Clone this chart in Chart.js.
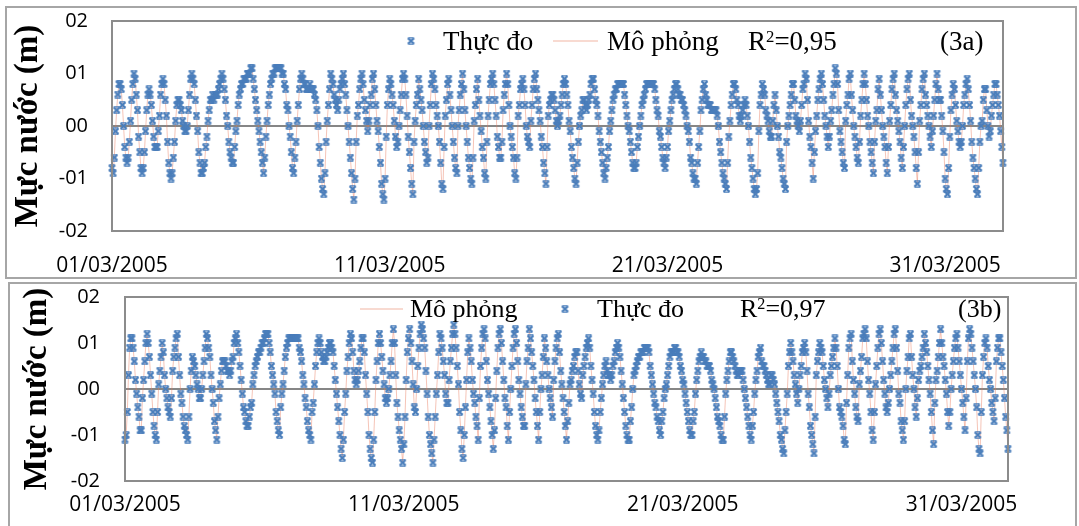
<!DOCTYPE html>
<html><head><meta charset="utf-8">
<script src="https://cdn.jsdelivr.net/npm/chart.js@4.4.0/dist/chart.umd.min.js"></script>
<style>
html,body{margin:0;padding:0;background:#fff;width:1079px;height:526px;overflow:hidden;}
.box{position:absolute;border:2px solid #a6a6a6;box-sizing:border-box;}
canvas{position:absolute;}
.t{position:absolute;font-family:"Liberation Serif","Times New Roman",serif;color:#000;white-space:nowrap;line-height:1;}
.t sup{font-size:0.62em;line-height:0;vertical-align:baseline;position:relative;top:-0.48em;}
</style></head><body>
<div class="box" style="left:5px;top:6px;width:1072px;height:273px;"></div>
<div class="box" style="left:8px;top:282px;width:1069px;height:260px;"></div>
<canvas id="cA" width="1070" height="270" style="left:6px;top:7px;width:1070px;height:270px"></canvas>
<canvas id="cB" width="1067" height="242" style="left:9px;top:284px;width:1067px;height:242px"></canvas>

<div class="t" style="left:443px;top:28px;font-size:27px">Thực đo</div>
<div class="t" style="left:607px;top:28px;font-size:27px">Mô phỏng</div>
<div class="t" style="left:748px;top:28px;font-size:27px">R<sup>2</sup>=0,95</div>
<div class="t" style="left:940px;top:28px;font-size:27px">(3a)</div>

<div class="t" style="left:410px;top:296px;font-size:26px">Mô phỏng</div>
<div class="t" style="left:597px;top:296px;font-size:26px">Thực đo</div>
<div class="t" style="left:740px;top:296px;font-size:26px">R<sup>2</sup>=0,97</div>
<div class="t" style="left:958px;top:296px;font-size:26px">(3b)</div>

<script>
// Hourly water level (axis units: hundredths, tick "01" = 10)
const obsA = [
-8,-9,-6,-1,3,6,8,8,7,4,0,-4,-6,-7,-6,-3,1,5,8,10,9,6,3,-2,
-5,-8,-9,-8,-5,-1,3,6,7,6,4,1,-2,-4,-4,-4,-1,2,6,8,9,8,5,2,
-3,-7,-9,-10,-9,-6,-3,1,4,5,5,4,3,1,0,-1,-1,0,3,6,9,10,9,8,
5,2,-1,-5,-7,-9,-9,-8,-7,-4,-2,1,3,5,5,6,5,6,6,6,7,8,9,10,
9,7,5,2,0,-3,-5,-6,-7,-7,-4,-1,1,4,6,7,8,8,9,9,9,10,10,10,
11,11,9,7,5,3,1,-1,-3,-5,-7,-9,-6,-2,1,4,6,8,9,10,10,11,11,11,
11,11,11,10,10,8,7,4,3,0,-2,-5,-8,-9,-6,-3,1,4,7,9,10,9,8,8,
7,7,7,8,7,7,7,6,5,3,0,-4,-7,-10,-12,-13,-9,-3,1,4,7,10,9,8,
6,5,4,3,5,7,8,9,10,8,6,3,0,-3,-6,-9,-12,-14,-10,-3,2,4,7,9,
10,8,5,3,1,-1,1,4,6,9,10,7,4,1,-1,-4,-7,-11,-13,-14,-10,-2,4,7,
9,8,6,4,1,-2,-4,-3,0,3,6,9,10,9,6,2,-2,-5,-8,-11,-13,-3,1,4,
6,9,7,5,3,0,-3,-5,-7,-6,0,4,8,10,9,7,4,2,0,-3,-7,-11,-12,-4,
2,5,8,9,6,3,0,-3,-6,-8,-9,0,3,6,8,10,7,3,0,-3,-6,-8,-10,-11,
-6,1,4,7,9,5,2,-1,-4,-6,-9,-10,-3,2,5,8,9,10,8,5,2,-2,-4,-6,
-6,-3,3,6,8,10,8,4,0,-2,-4,-6,-9,-10,-6,2,4,7,8,9,7,4,0,-2,
-3,-4,1,4,7,9,10,7,5,3,1,-2,-4,-7,-9,-11,-4,2,4,5,6,6,5,3,
1,0,1,2,4,6,8,9,8,6,4,1,-1,-4,-6,-8,-10,-11,-7,-3,0,2,3,5,
5,4,3,4,5,6,8,9,9,7,5,4,2,-1,-3,-5,-7,-9,-10,-8,-6,-4,-1,1,
3,5,6,7,7,8,8,8,8,8,8,6,4,2,0,-1,-3,-5,-7,-8,-8,-7,-4,-2,
0,2,4,5,6,7,8,8,8,8,8,8,8,7,5,3,2,-1,-2,-4,-6,-7,-8,-6,
-4,-1,1,3,5,6,7,8,8,7,6,6,5,5,4,3,2,0,-1,-3,-6,-7,-9,-10,
-10,-11,-7,-4,-1,3,5,7,8,6,5,4,4,4,3,3,3,3,3,2,0,-3,-5,-7,
-9,-10,-11,-12,-7,-2,1,4,6,8,8,7,5,4,2,1,2,3,4,5,4,2,0,-3,
-6,-8,-10,-12,-13,-12,-9,-1,4,6,8,7,6,3,2,1,-1,-2,-2,1,4,6,3,0,
-2,-5,-6,-8,-10,-11,-12,-3,0,2,4,6,8,8,5,2,1,0,-1,1,4,7,8,10,
9,5,1,-2,-4,-7,-10,-5,-1,2,5,7,9,10,8,5,2,0,-2,-4,-2,1,3,6,
8,11,10,8,3,-1,-3,-5,-7,-8,1,4,6,9,10,6,3,0,-2,-4,-6,-7,-3,2,
5,8,10,8,5,2,0,-3,-5,-7,-9,-3,1,3,7,9,6,3,0,-2,-4,-7,-9,-4,
1,4,7,9,10,6,3,1,-1,-3,-6,-8,-4,0,4,7,9,10,5,2,0,-2,-5,-8,
-11,-5,1,4,7,9,10,6,4,2,0,-2,-4,-1,2,5,8,10,7,5,5,2,-1,-5,
-10,-12,-13,-8,-2,3,6,8,7,4,1,-1,-3,-4,-3,0,4,6,8,9,7,4,1,-3,
-6,-8,-10,-12,-13,-8,-3,0,1,5,7,7,3,0,-2,-1,2,4,6,8,8,6,4,2,
-1,-4,-7
];
const obsB = [
-11,-10,-5,3,9,11,11,9,6,2,-1,-4,-6,-9,-9,-2,2,6,10,12,10,7,3,-1,
-5,-8,-10,-11,-5,1,4,7,10,8,3,0,-2,-4,-5,-6,-2,4,7,9,11,12,7,3,
-1,-3,-6,-8,-9,-10,-11,-6,0,4,7,6,5,3,1,0,-2,-2,0,3,6,9,12,11,
9,7,3,0,-3,-7,-9,-11,-6,-2,1,4,6,6,6,5,4,4,3,4,6,7,10,11,
12,10,8,5,2,-1,-4,-5,-7,-8,-8,-6,-4,-3,1,3,5,6,7,8,8,9,10,10,
11,12,12,12,10,8,5,3,1,-1,-5,-7,-9,-10,-4,-1,1,4,7,9,10,11,11,11,
11,11,11,11,11,11,9,8,6,3,1,-2,-4,-7,-9,-10,-11,-5,-3,1,5,8,10,11,
10,8,7,6,6,7,8,9,10,10,9,8,5,2,-1,-4,-7,-10,-13,-15,-11,-5,-1,4,
7,10,12,11,8,4,2,1,2,4,6,9,11,11,8,3,-1,-5,-10,-13,-15,-16,-11,-5,
2,6,10,12,10,7,4,1,-2,-3,-2,0,3,6,10,13,10,3,-3,-6,-9,-11,-13,-16,
-12,-6,2,8,11,13,10,6,1,-4,-5,0,5,9,12,14,13,11,9,4,-1,-6,-10,-12,
-14,-16,-11,-6,-1,3,8,12,11,9,6,3,-1,-3,-3,2,6,9,12,14,12,9,5,1,
-5,-9,-13,-15,-10,-4,2,8,11,9,6,2,-1,-3,-6,-8,-11,-2,5,9,12,13,11,6,
2,-1,-4,-7,-10,-13,-9,-2,4,9,12,13,10,6,2,-2,-4,-8,-11,-5,0,5,9,12,
13,10,6,2,-1,-4,-6,-8,-8,1,6,9,13,11,8,5,2,-2,-5,-8,-11,-5,0,3,
7,11,9,6,3,0,-2,-4,-6,2,6,9,11,12,8,4,1,-2,-5,-8,-11,-7,-3,1,
2,4,5,7,8,8,4,1,-1,-2,3,5,7,9,10,11,9,5,2,-1,-5,-8,-10,-11,
-9,-5,-2,1,3,5,6,4,3,3,2,3,5,6,8,9,10,9,7,4,1,-2,-5,-8,
-10,-11,-11,-7,-4,0,3,4,5,6,7,7,8,8,8,9,9,9,9,8,5,3,1,-1,
-3,-4,-6,-7,-9,-10,-7,-5,-2,0,1,3,5,7,8,8,8,9,9,8,8,7,5,4,
2,1,-1,-3,-5,-7,-9,-10,-10,-7,-5,-1,2,4,6,7,8,7,7,6,6,5,5,5,
4,2,1,0,-2,-4,-6,-7,-8,-10,-11,-11,-6,-1,2,4,6,8,8,7,6,5,4,3,
3,4,4,4,2,0,-2,-4,-6,-8,-10,-11,-8,-5,-1,2,4,7,8,9,6,5,5,4,
3,2,1,1,3,3,2,1,-1,-3,-5,-7,-10,-11,-13,-14,-9,-5,-1,5,8,10,8,6,
3,1,-1,-3,0,3,5,8,9,10,8,4,-1,-4,-8,-10,-12,-14,-6,3,6,8,10,9,
8,5,2,0,-2,-4,-1,3,5,7,9,11,9,5,0,-4,-5,-6,-8,-11,-12,-3,3,9,
11,12,6,2,-1,-4,-6,-7,1,4,7,11,12,13,11,6,2,-1,-5,-9,-11,-5,1,5,
9,12,13,10,6,2,-1,-4,-5,-3,0,3,6,9,12,13,9,4,-1,-3,-7,-9,-11,-7,
0,4,7,11,12,7,3,0,-4,-6,-2,2,4,5,7,9,12,10,8,5,2,-1,-5,-9,
-12,-3,2,4,7,10,13,10,7,5,2,-1,-5,-8,-5,0,3,6,9,11,12,9,6,3,
0,-3,-6,-9,-2,6,11,13,12,9,6,3,0,-4,-10,-13,-14,-5,3,7,10,11,9,5,
2,0,-3,-5,-7,-2,6,9,11,11,8,5,2,-2,-6,-9,
-13
];
// simulated series drawn as thin line (follows the observed points)
const simA = obsA;
const simB = obsB;
const xTickHours = [0, 240, 480, 720];
const xTickLabels = ['01/03/2005', '11/03/2005', '21/03/2005', '31/03/2005'];
const yTicks = [-20, -10, 0, 10, 20];
const yTickLabels = ['-02', '-01', '00', '01', '02'];

const MARK = '#4a7ebb';
const SIMC = 'rgba(232,120,90,0.55)';

// Excel-like "x" marker (x with short caps)
function makeMarker() {
  const c = document.createElement('canvas');
  c.width = 9; c.height = 8;
  const g = c.getContext('2d');
  g.strokeStyle = MARK; g.lineWidth = 2.2; g.lineCap = 'butt';
  g.beginPath();
  g.moveTo(1.5, 1.2); g.lineTo(7.5, 6.8);
  g.moveTo(7.5, 1.2); g.lineTo(1.5, 6.8);
  g.stroke();
  g.lineWidth = 1.4;
  g.beginPath();
  g.moveTo(1.5, 0.9); g.lineTo(7.5, 0.9);
  g.moveTo(1.5, 7.1); g.lineTo(7.5, 7.1);
  g.stroke();
  return c;
}
const MARKER = makeMarker();

function makeChart(id, obs, sim, cfg) {
  const obsPts = obs.map((v, i) => ({x: i, y: v}));
  const simPts = sim.map((v, i) => ({x: i, y: v}));
  const deco = {
    id: 'deco',
    afterDraw(chart) {
      const ctx = chart.ctx, a = chart.chartArea;
      ctx.save();
      ctx.strokeStyle = '#8c8c8c'; ctx.lineWidth = 2;
      ctx.strokeRect(a.left, a.top, a.right - a.left, a.bottom - a.top);
      ctx.strokeStyle = SIMC; ctx.lineWidth = 1.2;
      ctx.beginPath(); ctx.moveTo(cfg.lineX0, cfg.legY); ctx.lineTo(cfg.lineX1, cfg.legY); ctx.stroke();
      ctx.drawImage(MARKER, cfg.markX - 4.5, cfg.legY - 4);
      ctx.restore();
    }
  };
  return new Chart(document.getElementById(id), {
    type: 'scatter',
    data: {datasets: [
      {label: 'Thực đo', data: obsPts, showLine: false, pointStyle: MARKER, pointRadius: 4,
       borderColor: MARK, backgroundColor: MARK, clip: false},
      {label: 'Mô phỏng', data: simPts, showLine: true, borderColor: SIMC, borderWidth: 0.8,
       pointRadius: 0, tension: 0}
    ]},
    options: {
      responsive: false, animation: false, events: [],
      layout: {padding: {top: cfg.top, right: cfg.right, bottom: 0, left: 0}},
      plugins: {legend: {display: false}, tooltip: {enabled: false}},
      scales: {
        x: {type: 'linear', min: 0, max: obs.length - 1,
            grid: {display: false, drawTicks: false}, border: {display: false},
            afterBuildTicks: s => { s.ticks = xTickHours.map(v => ({value: v})); },
            afterFit: s => { s.height = cfg.xh; s.paddingLeft = 0; s.paddingRight = 0; },
            ticks: {autoSkip: false, maxRotation: 0, padding: cfg.xpad, color: '#000',
                    font: {family: 'Open Sans', size: 21},
                    callback: v => xTickLabels[xTickHours.indexOf(v)]}},
        y: {min: -20, max: 20,
            grid: {drawTicks: false, lineWidth: 2,
                   color: c => (c.tick && c.tick.value === 0) ? '#868686' : 'rgba(0,0,0,0)'},
            border: {display: false},
            afterBuildTicks: s => { s.ticks = yTicks.map(v => ({value: v})); },
            afterFit: s => { s.width = cfg.yw; s.paddingTop = 0; s.paddingBottom = 0; },
            ticks: {padding: cfg.ypad, color: '#000', font: {family: 'Open Sans', size: 20},
                    callback: v => yTickLabels[yTicks.indexOf(v)]},
            title: {display: true, text: 'Mực nước (m)', color: '#000',
                    font: {family: 'Liberation Serif', size: 33, weight: 'bold'},
                    padding: {top: cfg.tpad, bottom: 0}}}
      }
    },
    plugins: [deco]
  });
}

makeChart('cA', obsA, simA, {top: 14, right: 73, xh: 46, xpad: 22, yw: 106, ypad: 24, tpad: 3,
  legY: 34, markX: 405, lineX0: 547, lineX1: 592});
makeChart('cB', obsB, simB, {top: 13, right: 68, xh: 45, xpad: 11, yw: 116, ypad: 25, tpad: 9,
  legY: 25, markX: 556, lineX0: 351, lineX1: 394});
</script>
</body></html>
